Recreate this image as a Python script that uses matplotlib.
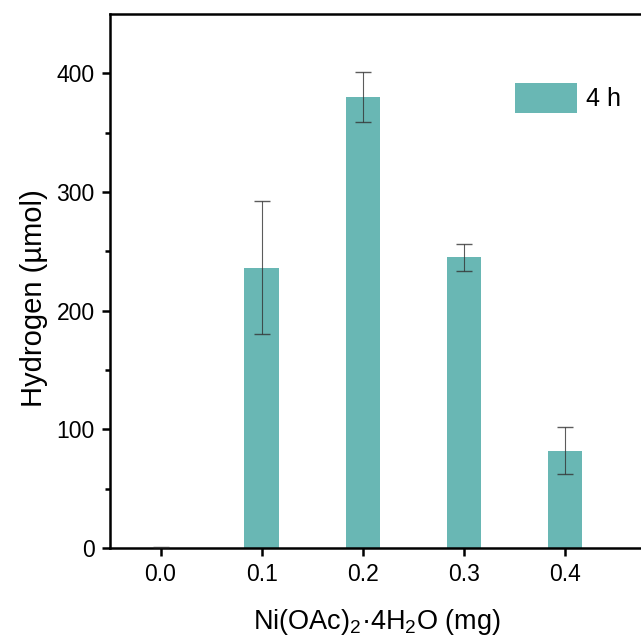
import matplotlib
matplotlib.use('Agg')
import matplotlib.pyplot as plt
import numpy as np

plt.rcParams['font.family'] = ['Liberation Sans', 'DejaVu Sans']
plt.rcParams['mathtext.default'] = 'regular'

# donnees
ni_mg = [0.0, 0.1, 0.2, 0.3, 0.4]
hydrogen = [0, 236, 380, 245, 82]
hydrogen_err = [1, 56, 21, 11.5, 20]
tick_labels = ['0.0', '0.1', '0.2', '0.3', '0.4']

fig = plt.figure(figsize=(6.41, 6.42), dpi=100)
ax = fig.add_axes([0.1716, 0.1464, 0.8674, 0.8318])

ax.bar(ni_mg, hydrogen, width=0.034, color='#69B7B4', label='4 h', zorder=2)
ax.errorbar(ni_mg, hydrogen, yerr=hydrogen_err, fmt='none', ecolor='#333333',
            elinewidth=0.8, capsize=5.5, capthick=1.0, alpha=0.8, zorder=3)

ax.set_xlim(-0.05, 0.5)
ax.set_ylim(0, 450)
ax.set_xticks(ni_mg)
ax.set_xticklabels(tick_labels)
ax.set_yticks([0, 100, 200, 300, 400])
ax.set_yticks(np.arange(50, 450, 100), minor=True)

for s in ax.spines.values():
    s.set_linewidth(1.8)
ax.tick_params(axis='both', which='major', direction='out', length=6, width=1.8,
               labelsize=16.5, pad=5)
ax.tick_params(axis='y', which='minor', direction='out', length=3.5, width=1.8)
ax.tick_params(top=False, right=False)

ax.set_ylabel('Hydrogen (µmol)', fontsize=21, labelpad=6)
ax.set_xlabel(r'Ni(OAc)$_2$·4H$_2$O (mg)', fontsize=19.5, labelpad=15)
# decalage des titres comme sur l'original
ax.yaxis.label.set_y(0.468)
ax.xaxis.label.set_x(0.48)

ax.legend(loc='upper left', bbox_to_anchor=(0.728, 0.871), frameon=False,
          fontsize=18, handlelength=2.48, handleheight=1.45, handletextpad=0.35,
          borderpad=0, borderaxespad=0)

fig.savefig('out.png', dpi=100)
